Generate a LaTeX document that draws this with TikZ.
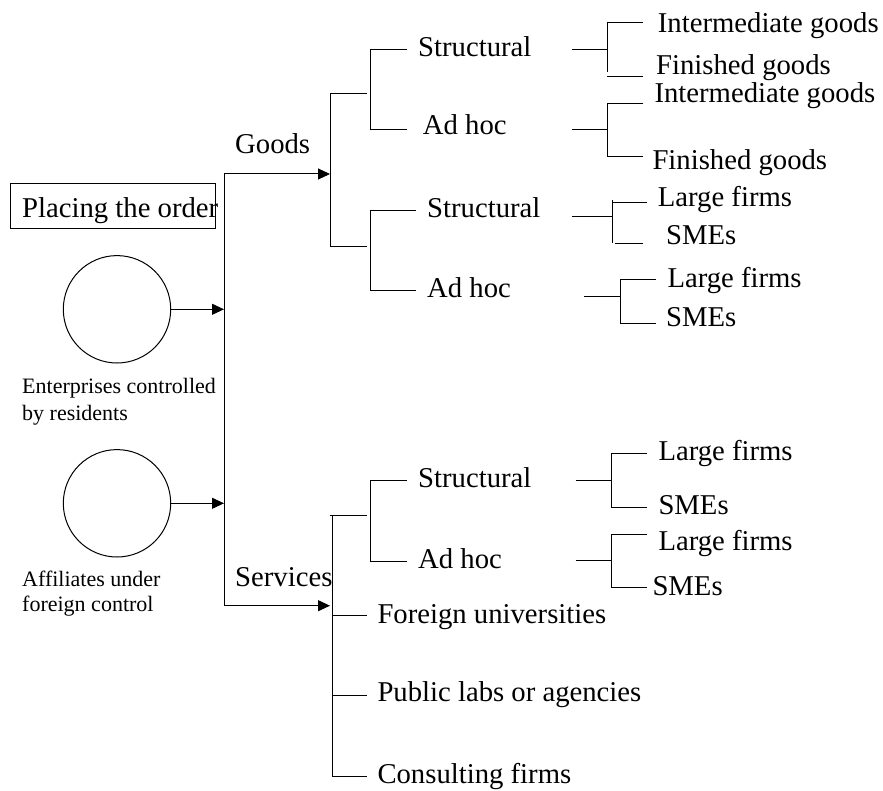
\documentclass[tikz,border=0pt]{standalone}
\usepackage{fontspec}
\setmainfont{Liberation Serif}
\usetikzlibrary{arrows.meta}
\begin{document}
\begin{tikzpicture}[x=1pt,y=-1pt,
  ln/.style={line width=1pt,black},
  arr/.style={ln,-{Triangle[length=12pt,width=11pt]}},
  big/.style={font=\fontsize{28.7}{34}\selectfont,inner sep=0pt,anchor=base west},
  sml/.style={font=\fontsize{22}{26}\selectfont,inner sep=0pt,anchor=base west}]
\useasboundingbox (0,0) rectangle (883,791);
% left side
\node[draw,line width=1pt,minimum width=205.4pt,minimum height=45pt,inner sep=0pt] (box) at (113,205.8) {};
\node[big] (po) at (22,218) {Placing the order};
\node[circle,draw,line width=1pt,minimum size=107.4pt,inner sep=0pt] (c1) at (117,309.3) {};
\node[circle,draw,line width=1pt,minimum size=107.4pt,inner sep=0pt] (c2) at (117,503.3) {};
\node[sml] (e1) at (22,393) {Enterprises controlled};
\node[sml] (e2) at (22,420) {by residents};
\node[sml] (a1) at (22,586.7) {Affiliates under};
\node[sml] (a2) at (22,611.7) {foreign control};
% spine
\coordinate (sT) at (224,174);
\coordinate (sB) at (224,605.7);
\coordinate (m1) at (224,309.3);
\coordinate (m2) at (224,503.3);
\coordinate (gA) at (330,174);
\coordinate (sA) at (330,605.7);
\draw[ln] (sT) -- (sB);
\draw[arr] (c1.east) -- (m1);
\draw[arr] (c2.east) -- (m2);
\draw[arr] (sT) -- (gA);
\draw[arr] (sB) -- (sA);
\node[big] (goods) at (235,154) {Goods};
\node[big] (serv) at (235,586.7) {Services};
% goods bracket
\coordinate (gb1) at (330,94);
\coordinate (gb2) at (330,247);
\draw[ln] (366.7,94) -- (gb1) -- (gb2) -- (366.7,247);
\draw[ln] (406.7,49.3) -- (370.7,49.3) -- (370.7,129.3) -- (406.7,129.3);
\draw[ln] (415.7,210.7) -- (370.7,210.7) -- (370.7,290.3) -- (415.7,290.3);
\node[big] (st1) at (418,57) {Structural};
\node[big] (ad1) at (422.7,135) {Ad hoc};
\node[big] (st2) at (427,218) {Structural};
\node[big] (ad2) at (427,298) {Ad hoc};
% services bracket
\coordinate (sv1) at (332.3,515);
\coordinate (sv2) at (332.3,776.7);
\draw[ln] (sv1) -- (sv2);
\draw[ln] (330,515) -- (366.7,515);
\draw[ln] (332.3,615) -- (366.7,615);
\draw[ln] (332.3,695.7) -- (366.7,695.7);
\draw[ln] (332.3,776.7) -- (366.7,776.7);
\draw[ln] (406.7,480) -- (370.7,480) -- (370.7,561) -- (406.7,561);
\node[big] (st3) at (418,487) {Structural};
\node[big] (ad3) at (418,568) {Ad hoc};
\node[big] (fu) at (377.3,623) {Foreign universities};
\node[big] (pl) at (377.3,701.7) {Public labs or agencies};
\node[big] (cf) at (377.3,783) {Consulting firms};
% right brackets
\draw[ln] (571.7,49.3) -- (607,49.3);
\draw[ln] (607,21.7) -- (607,71.7);
\draw[ln] (607,22.7) -- (643.3,22.7);
\draw[ln] (607,76.7) -- (643.3,76.7);
\draw[ln] (571.7,130) -- (607.3,130);
\draw[ln] (643.3,103.3) -- (607.3,103.3) -- (607.3,156.7) -- (643.3,156.7);
\draw[ln] (571.7,216.7) -- (612.7,216.7);
\draw[ln] (612.7,200) -- (612.7,243.3);
\draw[ln] (612.7,202.3) -- (646.7,202.3);
\draw[ln] (615,243.3) -- (643.3,243.3);
\draw[ln] (584.3,296.7) -- (620.7,296.7);
\draw[ln] (655.7,279.3) -- (620.7,279.3) -- (620.7,323.3) -- (655.7,323.3);
\draw[ln] (575.7,480) -- (611.7,480);
\draw[ln] (646.7,453.3) -- (611.7,453.3) -- (611.7,507.3) -- (646.7,507.3);
\draw[ln] (575.7,560.7) -- (611.7,560.7);
\draw[ln] (646.7,534.3) -- (611.7,534.3) -- (611.7,587.3) -- (646.7,587.3);
\node[big] (ig1) at (657.7,32.3) {Intermediate goods};
\node[big] (fg1) at (656,75) {Finished goods};
\node[big] (ig2) at (654.3,102.7) {Intermediate goods};
\node[big] (fg2) at (652.3,170) {Finished goods};
\node[big] (lf1) at (657.7,206.7) {Large firms};
\node[big] (sm1) at (666,244.3) {SMEs};
\node[big] (lf2) at (667.3,287.3) {Large firms};
\node[big] (sm2) at (666,326.7) {SMEs};
\node[big] (lf3) at (658.3,460) {Large firms};
\node[big] (sm3) at (658.3,514) {SMEs};
\node[big] (lf4) at (658.3,550) {Large firms};
\node[big] (sm4) at (652.3,595) {SMEs};
\end{tikzpicture}
\end{document}
